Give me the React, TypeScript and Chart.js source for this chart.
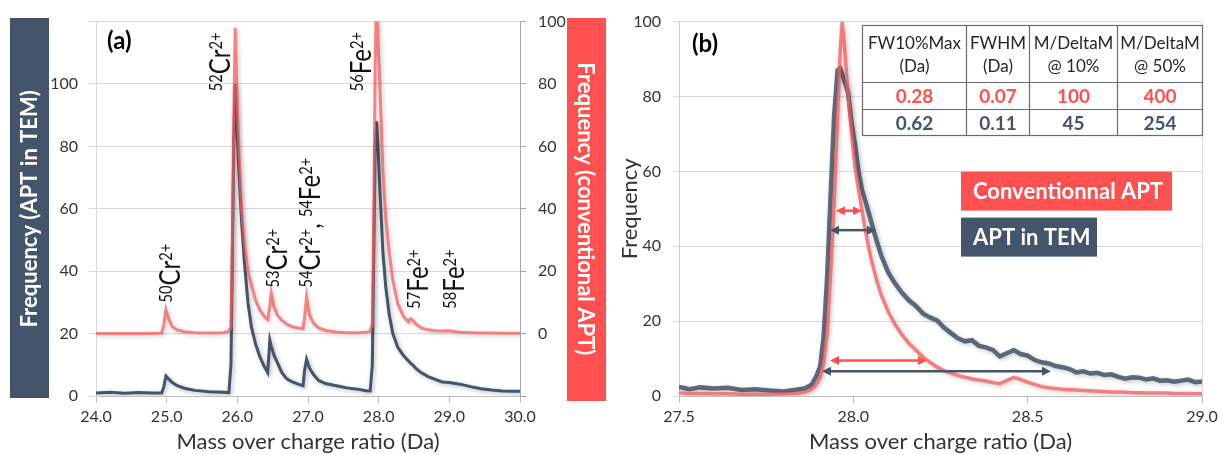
import { useEffect, useRef } from 'react';
import { Chart, registerables } from 'chart.js';

Chart.register(...registerables);

const FONT = 'Lato, "DejaVu Sans", sans-serif';
const NAVY = '#44546A';
const RED = '#FF5050';
const TXT = '#333333';

// ---------- panel (a) data ----------
const aMass = [
  24.0, 24.2, 24.4, 24.6, 24.8, 24.93, 24.96, 24.99, 25.03, 25.08,
  25.15, 25.25, 25.4, 25.6, 25.8, 25.88, 25.91, 25.93, 25.95, 25.97,
  25.99, 26.02, 26.06, 26.1, 26.15, 26.2, 26.26, 26.32, 26.38, 26.43,
  26.46, 26.48, 26.52, 26.57, 26.63, 26.7, 26.78, 26.86, 26.93, 26.95,
  26.98, 27.02, 27.08, 27.15, 27.25, 27.4, 27.55, 27.7, 27.82, 27.88,
  27.91, 27.93, 27.95, 27.97, 27.99, 28.02, 28.06, 28.1, 28.15, 28.2,
  28.27, 28.35, 28.42, 28.45, 28.48, 28.53, 28.6, 28.7, 28.8, 28.9,
  29.0, 29.15, 29.3, 29.45, 29.6, 29.75, 29.9, 30.0,
];
// APT in TEM (left axis)
const aTem = [
  1.0, 1.2, 0.9, 1.1, 1.0, 1.0, 3.0, 6.4, 5.4, 4.3,
  3.3, 2.5, 1.8, 1.4, 1.2, 1.1, 10, 45, 82, 100,
  88, 73, 56, 43, 30, 22, 16.5, 12.5, 9.5, 7.5,
  17.9, 16, 13, 10.5, 7.5, 5.5, 4.5, 3.8, 3.3, 8,
  11.8, 9, 6.8, 5, 4, 3.3, 2.6, 2.2, 1.7, 1.6,
  10, 45, 80, 88, 80, 65, 46, 35, 26, 20,
  15.6, 13, 11.3, 10.5, 10, 8.8, 7.5, 6.2, 5.3, 4.5,
  4.3, 3.8, 3.0, 2.3, 1.9, 1.6, 1.5, 1.5,
];
// Conventional APT (right axis)
const aConv = [
  0, 0, 0, 0, 0, 0.2, 3, 7.7, 4.5, 2.2,
  1.2, 0.6, 0.3, 0.2, 0.3, 0.8, 2, 30, 70, 98,
  80, 60, 40, 29, 20, 15.5, 10.5, 7.5, 5.5, 4.5,
  9, 13.1, 8.5, 5.8, 4.2, 3, 2.2, 1.8, 1.6, 5,
  11.8, 6, 3.3, 1.8, 1, 0.5, 0.3, 0.3, 0.4, 0.8,
  3, 35, 85, 112, 95, 78, 52, 37, 26, 17,
  9.6, 5.5, 3.8, 4.8, 4.3, 3, 1.8, 1.2, 0.9, 0.8,
  0.9, 0.4, 0.3, 0.2, 0.2, 0.1, 0.1, 0.1,
];
const aXTicks = [24, 25, 26, 27, 28, 29, 30];
const aLeftTicks = [0, 20, 40, 60, 80, 100, 120];
const aLeftTickLabels = ['0', '20', '40', '60', '80', '100', ''];
const aRightTicks = [-20, 0, 20, 40, 60, 80, 100];
const aRightTickLabels = ['', '0', '20', '40', '60', '80', '100'];

// ion labels: [text, isSuperscript] parts, anchored at mass x / left-axis y (bottom of text)
const ionLabels: { parts: [string, boolean][]; x: number; y: number }[] = [
  { parts: [['50', true], ['Cr', false], ['2+', true]], x: 25.05, y: 30 },
  { parts: [['52', true], ['Cr', false], ['2+', true]], x: 25.75, y: 97.7 },
  { parts: [['53', true], ['Cr', false], ['2+', true]], x: 26.56, y: 34.8 },
  { parts: [['54', true], ['Cr', false], ['2+', true], [', ', false], ['54', true], ['Fe', false], ['2+', true]], x: 27.03, y: 34.8 },
  { parts: [['56', true], ['Fe', false], ['2+', true]], x: 27.75, y: 97.7 },
  { parts: [['57', true], ['Fe', false], ['2+', true]], x: 28.56, y: 28 },
  { parts: [['58', true], ['Fe', false], ['2+', true]], x: 29.07, y: 28 },
];

// ---------- panel (b) data ----------
const bMass = [
  27.5, 27.53, 27.56, 27.6, 27.64, 27.68, 27.72, 27.76, 27.8, 27.83,
  27.86, 27.88, 27.895, 27.905, 27.915, 27.925, 27.935, 27.945, 27.955, 27.962,
  27.968, 27.975, 27.985, 27.995, 28.005, 28.015, 28.025, 28.035, 28.05, 28.065,
  28.08, 28.1, 28.12, 28.14, 28.16, 28.18,
  28.2, 28.22, 28.24, 28.26, 28.28, 28.3, 28.32, 28.34, 28.36, 28.38,
  28.4, 28.42, 28.44, 28.46, 28.48, 28.5, 28.52, 28.54, 28.56, 28.58,
  28.6, 28.62, 28.64, 28.66, 28.68, 28.7, 28.72, 28.74, 28.76, 28.78,
  28.8, 28.82, 28.84, 28.86, 28.88, 28.9, 28.92, 28.94, 28.96, 28.98,
  29.0,
];
const bTem = [
  2.4, 1.8, 2.3, 2.0, 2.2, 1.6, 1.8, 1.5, 1.2, 1.6,
  2.0, 3.0, 5.5, 8, 16, 32, 54, 75, 87, 87.5,
  86, 84, 81, 73, 67, 60, 55, 52, 47, 42,
  37.5, 33, 30, 27.5, 25.5, 24,
  22.0, 21.0, 20.2, 18.3, 16.8, 15.4, 14.6, 14.9, 13.4, 13.0,
  12.3, 10.6, 11.4, 12.3, 11.2, 10.8, 9.6, 9.0, 8.7, 8.0,
  7.7, 7.2, 6.3, 6.6, 6.0, 6.2, 5.6, 5.8, 5.1, 4.6,
  5.0, 4.9, 4.4, 4.7, 4.1, 4.2, 3.8, 4.1, 4.4, 3.7,
  3.9,
];
const bConv = [
  0.8, 0.7, 0.7, 0.6, 0.6, 0.5, 0.5, 0.5, 0.6, 0.7,
  1.0, 1.8, 3.3, 5, 9, 17, 33, 52, 75, 92,
  100, 93, 80.5, 70, 61, 55, 49.5, 44, 37, 31.5,
  27, 22.5, 19, 16.3, 14, 12.2,
  10.4, 9.0, 7.7, 6.8, 6.1, 5.5, 5.0, 4.6, 4.3, 4.0,
  3.6, 3.3, 4.2, 5.0, 4.4, 3.7, 3.1, 2.5, 2.2, 2.0,
  1.8, 1.7, 1.6, 1.5, 1.4, 1.3, 1.2, 1.1, 1.1, 1.0,
  0.9, 0.9, 0.8, 0.8, 0.8, 0.8, 0.7, 0.7, 0.7, 0.6,
  0.6,
];
const bXTicks = [27.5, 28.0, 28.5, 29.0];
const bYTicks = [0, 20, 40, 60, 80, 100];

// width arrows: [from mass, to mass, frequency]
const convArrows = [[27.95, 28.025, 49.5], [27.933, 28.211, 9.5]];
const temArrows = [[27.933, 28.065, 44.3], [27.91, 28.567, 6.6]];

const tableHeader = [['FW10%Max', '(Da)'], ['FWHM', '(Da)'], ['M/DeltaM', '@ 10%'], ['M/DeltaM', '@ 50%']];
const tableConv = ['0.28', '0.07', '100', '400'];
const tableTem = ['0.62', '0.11', '45', '254'];
const legendLabels = ['Conventionnal APT', 'APT in TEM'];

Chart.defaults.font.family = FONT;
Chart.defaults.color = TXT;

const shadowPlugin = {
  id: 'lineShadow',
  beforeDatasetDraw(chart: any) {
    const c = chart.ctx;
    c.save();
    c.shadowColor = 'rgba(0,0,0,0.28)';
    c.shadowBlur = 4;
    c.shadowOffsetX = 1.5;
    c.shadowOffsetY = 1.5;
  },
  afterDatasetDraw(chart: any) {
    chart.ctx.restore();
  },
};

function drawIon(ctx: CanvasRenderingContext2D, parts: [string, boolean][], cx: number, by: number) {
  const main = 28;
  const sup = 17;
  const squeeze = 0.86;
  const cap = main * 0.72;
  const raise = cap - sup * 0.72;
  ctx.save();
  ctx.translate(cx + cap / 2, by);
  ctx.rotate(-Math.PI / 2);
  ctx.scale(squeeze, 1);
  ctx.textBaseline = 'alphabetic';
  ctx.textAlign = 'left';
  ctx.fillStyle = '#111';
  let u = 0;
  for (const [t, s] of parts) {
    ctx.font = `${s ? sup : main}px ${FONT}`;
    ctx.fillText(t, u, s ? -raise : 0);
    u += ctx.measureText(t).width;
  }
  ctx.restore();
}

const panelAPlugin = {
  id: 'panelA',
  beforeDraw(chart: any) {
    const ctx = chart.ctx;
    ctx.save();
    ctx.fillStyle = NAVY;
    ctx.fillRect(10, 18, 39, 380);
    ctx.fillStyle = RED;
    ctx.fillRect(567, 18, 39, 383);
    ctx.restore();
  },
  afterDraw(chart: any) {
    const { ctx, chartArea, scales } = chart;
    ctx.save();
    ctx.font = `bold 24px ${FONT}`;
    ctx.fillStyle = '#000';
    ctx.textBaseline = 'middle';
    ctx.textAlign = 'left';
    ctx.fillText('(a)', chartArea.left + 11, chartArea.top + 20);
    ionLabels.forEach((l) =>
      drawIon(ctx, l.parts, scales.x.getPixelForValue(l.x), scales.y.getPixelForValue(l.y))
    );
    ctx.restore();
  },
};

function drawArrow(ctx: CanvasRenderingContext2D, x1: number, x2: number, y: number, color: string) {
  const head = 9;
  const hw = 4.5;
  ctx.strokeStyle = color;
  ctx.fillStyle = color;
  ctx.lineWidth = 2.5;
  ctx.beginPath();
  ctx.moveTo(x1 + head - 1, y);
  ctx.lineTo(x2 - head + 1, y);
  ctx.stroke();
  ctx.beginPath();
  ctx.moveTo(x1, y);
  ctx.lineTo(x1 + head, y - hw);
  ctx.lineTo(x1 + head, y + hw);
  ctx.closePath();
  ctx.fill();
  ctx.beginPath();
  ctx.moveTo(x2, y);
  ctx.lineTo(x2 - head, y - hw);
  ctx.lineTo(x2 - head, y + hw);
  ctx.closePath();
  ctx.fill();
}

const panelBPlugin = {
  id: 'panelB',
  beforeDatasetsDraw(chart: any) {
    const { ctx, chartArea } = chart;
    ctx.save();
    ctx.strokeStyle = '#d9d9d9';
    ctx.lineWidth = 1;
    ctx.beginPath();
    ctx.moveTo(Math.round(chartArea.right) + 0.5, chartArea.top);
    ctx.lineTo(Math.round(chartArea.right) + 0.5, chartArea.bottom);
    ctx.stroke();
    ctx.restore();
  },
  afterDatasetsDraw(chart: any) {
    const { ctx, scales } = chart;
    ctx.save();
    convArrows.forEach(([a, b, y]) =>
      drawArrow(ctx, scales.x.getPixelForValue(a), scales.x.getPixelForValue(b), scales.y.getPixelForValue(y), RED)
    );
    temArrows.forEach(([a, b, y]) =>
      drawArrow(ctx, scales.x.getPixelForValue(a), scales.x.getPixelForValue(b), scales.y.getPixelForValue(y), NAVY)
    );
    ctx.restore();
  },
  afterDraw(chart: any) {
    const { ctx, chartArea } = chart;
    ctx.save();
    // panel label
    ctx.font = `bold 24px ${FONT}`;
    ctx.fillStyle = '#000';
    ctx.textBaseline = 'middle';
    ctx.textAlign = 'left';
    ctx.fillText('(b)', chartArea.left + 13, chartArea.top + 23);

    // table
    const colW = [104, 63, 88, 85];
    const rowH = [57, 27, 26];
    const tw = colW.reduce((s, w) => s + w, 0);
    const th = rowH.reduce((s, h) => s + h, 0);
    const tx = Math.round(chartArea.right - tw) + 0.5;
    const ty = Math.round(chartArea.top + 3) + 0.5;
    ctx.fillStyle = '#fff';
    ctx.fillRect(tx, ty, tw, th);
    ctx.strokeStyle = '#6b6b6b';
    ctx.lineWidth = 1.2;
    ctx.strokeRect(tx, ty, tw, th);
    let cx = tx;
    colW.forEach((w, i) => {
      if (i > 0) {
        ctx.beginPath();
        ctx.moveTo(cx, ty);
        ctx.lineTo(cx, ty + th);
        ctx.stroke();
      }
      cx += w;
    });
    let ry = ty;
    rowH.forEach((h, i) => {
      if (i > 0) {
        ctx.beginPath();
        ctx.moveTo(tx, ry);
        ctx.lineTo(tx + tw, ry);
        ctx.stroke();
      }
      ry += h;
    });
    ctx.textAlign = 'center';
    ctx.textBaseline = 'middle';
    cx = tx;
    colW.forEach((w, i) => {
      const mid = cx + w / 2;
      ctx.font = `17px ${FONT}`;
      ctx.fillStyle = '#262626';
      ctx.fillText(tableHeader[i][0], mid, ty + 18);
      ctx.fillText(tableHeader[i][1], mid, ty + 41);
      ctx.font = `bold 19px ${FONT}`;
      ctx.fillStyle = RED;
      ctx.fillText(tableConv[i], mid, ty + rowH[0] + rowH[1] / 2 + 1);
      ctx.fillStyle = NAVY;
      ctx.fillText(tableTem[i], mid, ty + rowH[0] + rowH[1] + rowH[2] / 2 + 1);
      cx += w;
    });

    // legend boxes
    const lx = chartArea.left + 282;
    const boxes = [
      { top: chartArea.top + 150, w: 211, color: RED },
      { top: chartArea.top + 196, w: 136, color: NAVY },
    ];
    ctx.textAlign = 'left';
    ctx.font = `bold 22px ${FONT}`;
    boxes.forEach((b, i) => {
      ctx.fillStyle = b.color;
      ctx.fillRect(lx, b.top, b.w, 39);
      ctx.fillStyle = '#fff';
      ctx.fillText(legendLabels[i], lx + 12, b.top + 20);
    });
    ctx.restore();
  },
};

function makeChartA(canvas: HTMLCanvasElement) {
  return new Chart(canvas, {
    type: 'line',
    data: {
      datasets: [
        {
          label: 'Conventional APT',
          data: aMass.map((m, i) => ({ x: m, y: aConv[i] })),
          yAxisID: 'y2',
          borderColor: 'rgba(250,90,90,0.72)',
          borderWidth: 3,
          pointRadius: 0,
          tension: 0,
          order: 0,
        },
        {
          label: 'APT in TEM',
          data: aMass.map((m, i) => ({ x: m, y: aTem[i] })),
          yAxisID: 'y',
          borderColor: NAVY,
          borderWidth: 3,
          pointRadius: 0,
          tension: 0,
          order: 1,
        },
      ],
    },
    options: {
      responsive: false,
      animation: false,
      layout: { padding: { top: 20, left: 0, right: 0, bottom: 0 } },
      plugins: { legend: { display: false }, tooltip: { enabled: false } },
      scales: {
        x: {
          type: 'linear',
          min: 24,
          max: 30,
          afterBuildTicks: (s: any) => {
            s.ticks = aXTicks.map((v) => ({ value: v }));
          },
          afterFit: (s: any) => {
            s.height = 59;
          },
          ticks: { callback: (v: any) => Number(v).toFixed(1), font: { size: 16 }, color: TXT, padding: 4, maxRotation: 0 },
          grid: { drawOnChartArea: false, drawTicks: true, tickLength: 7, color: '#bfbfbf' },
          border: { color: '#bfbfbf' },
          title: { display: true, text: 'Mass over charge ratio (Da)', font: { size: 22 }, color: TXT, padding: { top: 0, bottom: 0 } },
        },
        y: {
          type: 'linear',
          position: 'left',
          min: 0,
          max: 120,
          afterBuildTicks: (s: any) => {
            s.ticks = aLeftTicks.map((v) => ({ value: v }));
          },
          afterFit: (s: any) => {
            s.width = 96;
          },
          ticks: { callback: (_v: any, i: number) => aLeftTickLabels[i], font: { size: 16 }, color: TXT, padding: 11 },
          grid: { color: '#d9d9d9', tickLength: 7 },
          border: { color: '#d9d9d9' },
          title: { display: true, text: 'Frequency (APT in TEM)', color: '#fff', font: { size: 22, weight: 'bold' }, padding: { top: 17, bottom: 0 } },
        },
        y2: {
          type: 'linear',
          position: 'right',
          min: -20,
          max: 100,
          afterBuildTicks: (s: any) => {
            s.ticks = aRightTicks.map((v) => ({ value: v }));
          },
          afterFit: (s: any) => {
            s.width = 92;
          },
          ticks: { callback: (_v: any, i: number) => aRightTickLabels[i], font: { size: 16 }, color: TXT, padding: 12 },
          grid: { display: true, drawOnChartArea: false, drawTicks: true, tickLength: 6, color: '#a6a6a6' },
          border: { color: '#a6a6a6' },
          title: { display: true, text: 'Frequency (conventional APT)', color: '#fff', font: { size: 22, weight: 'bold' }, padding: { top: 14, bottom: 0 } },
        },
      },
    } as any,
    plugins: [shadowPlugin, panelAPlugin],
  });
}

function makeChartB(canvas: HTMLCanvasElement) {
  return new Chart(canvas, {
    type: 'line',
    data: {
      datasets: [
        {
          label: 'Conventionnal APT',
          data: bMass.map((m, i) => ({ x: m, y: bConv[i] })),
          borderColor: 'rgba(250,90,90,0.75)',
          borderWidth: 3.5,
          pointRadius: 0,
          tension: 0,
          order: 0,
        },
        {
          label: 'APT in TEM',
          data: bMass.map((m, i) => ({ x: m, y: bTem[i] })),
          borderColor: 'rgba(68,84,106,0.85)',
          borderWidth: 4.5,
          pointRadius: 0,
          tension: 0,
          order: 1,
        },
      ],
    },
    options: {
      responsive: false,
      animation: false,
      layout: { padding: { top: 20, left: 0, right: 21, bottom: 0 } },
      plugins: { legend: { display: false }, tooltip: { enabled: false } },
      scales: {
        x: {
          type: 'linear',
          min: 27.5,
          max: 29,
          afterBuildTicks: (s: any) => {
            s.ticks = bXTicks.map((v) => ({ value: v }));
          },
          afterFit: (s: any) => {
            s.height = 59;
          },
          ticks: { callback: (v: any) => Number(v).toFixed(1), font: { size: 16 }, color: TXT, padding: 4, maxRotation: 0 },
          grid: { drawOnChartArea: false, drawTicks: true, tickLength: 7, color: '#bfbfbf' },
          border: { color: '#bfbfbf' },
          title: { display: true, text: 'Mass over charge ratio (Da)', font: { size: 22 }, color: TXT, padding: { top: 0, bottom: 0 } },
        },
        y: {
          type: 'linear',
          min: 0,
          max: 100,
          afterBuildTicks: (s: any) => {
            s.ticks = bYTicks.map((v) => ({ value: v }));
          },
          afterFit: (s: any) => {
            s.width = 67;
          },
          ticks: { font: { size: 16 }, color: TXT, padding: 12 },
          grid: { color: '#d9d9d9', tickLength: 6 },
          border: { color: '#d0d0d0' },
          title: { display: true, text: 'Frequency', font: { size: 22 }, color: TXT, padding: { top: 5, bottom: 0 } },
        },
      },
    } as any,
    plugins: [shadowPlugin, panelBPlugin],
  });
}

export default function App() {
  const aRef = useRef<HTMLCanvasElement>(null);
  const bRef = useRef<HTMLCanvasElement>(null);
  useEffect(() => {
    const ca = makeChartA(aRef.current as HTMLCanvasElement);
    const cb = makeChartB(bRef.current as HTMLCanvasElement);
    return () => {
      ca.destroy();
      cb.destroy();
    };
  }, []);
  return (
    <div style={{ position: 'absolute', left: 0, top: 0, width: 1223, height: 455, background: '#fff' }}>
      <canvas ref={aRef} width={612} height={455} style={{ position: 'absolute', left: 0, top: 0, width: 612, height: 455 }} />
      <canvas ref={bRef} width={611} height={455} style={{ position: 'absolute', left: 612, top: 0, width: 611, height: 455 }} />
    </div>
  );
}
